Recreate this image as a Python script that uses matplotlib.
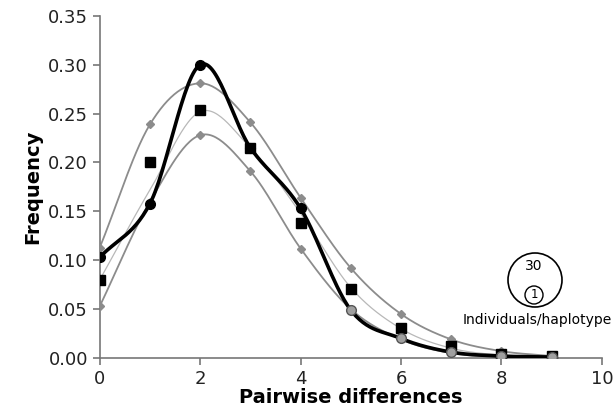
import numpy as np
import matplotlib
matplotlib.use("Agg")
import matplotlib.pyplot as plt
from matplotlib.patches import Circle

x = [0, 1, 2, 3, 4, 5, 6, 7, 8, 9]
observed = [0.103, 0.158, 0.300, 0.215, 0.153, 0.049, 0.020, 0.006, 0.002, 0.001]
squares = [0.080, 0.200, 0.254, 0.215, 0.138, 0.071, 0.031, 0.012, 0.004, 0.002]
expected_mid = [0.080, 0.172, 0.252, 0.215, 0.148, 0.072, 0.030, 0.010, 0.003, 0.001]
expected_hi = [0.113, 0.239, 0.281, 0.241, 0.164, 0.092, 0.045, 0.019, 0.007, 0.002]
expected_lo = [0.053, 0.160, 0.228, 0.191, 0.112, 0.050, 0.019, 0.005, 0.001, 0.000]


def smooth(xs, ys, n=30):
    # catmull-rom style curve, like spreadsheet "smoothed line"
    xs = np.asarray(xs, float)
    ys = np.asarray(ys, float)
    px = np.concatenate([[2 * xs[0] - xs[1]], xs, [2 * xs[-1] - xs[-2]]])
    py = np.concatenate([[2 * ys[0] - ys[1]], ys, [2 * ys[-1] - ys[-2]]])
    outx, outy = [], []
    t = np.linspace(0, 1, n)
    for i in range(1, len(px) - 2):
        for p, out in ((px, outx), (py, outy)):
            p0, p1, p2, p3 = p[i - 1], p[i], p[i + 1], p[i + 2]
            out.extend(0.5 * (2 * p1 + (-p0 + p2) * t
                              + (2 * p0 - 5 * p1 + 4 * p2 - p3) * t ** 2
                              + (-p0 + 3 * p1 - 3 * p2 + p3) * t ** 3))
    return np.array(outx), np.array(outy)


fig = plt.figure(figsize=(6.16, 4.17), dpi=100)
ax = fig.add_axes([0.162, 0.1415, 0.815, 0.8205])

grey = "#8c8c8c"
light = "#b8b8b8"

sx, sy = smooth(x, expected_hi)
ax.plot(sx, sy, color=grey, lw=1.3, zorder=2)
ax.plot(x, expected_hi, "D", color=grey, ms=4, zorder=3)

sx, sy = smooth(x, expected_lo)
ax.plot(sx, sy, color=grey, lw=1.3, zorder=2)
ax.plot(x, expected_lo, "D", color=grey, ms=4, zorder=3)

sx, sy = smooth(x, expected_mid)
ax.plot(sx, sy, color=light, lw=0.9, zorder=2)

ax.plot(x, squares, "s", color="black", ms=6.5, zorder=4)

sx, sy = smooth(x, observed)
ax.plot(sx, sy, color="black", lw=2.6, zorder=5)
ax.plot(x[:5], observed[:5], "o", color="black", ms=7, zorder=6)
ax.plot(x[5:], observed[5:], "o", mfc="#a0a0a0", mec="#555555", ms=7, zorder=6)

ax.set_xlim(0, 10)
ax.set_ylim(0, 0.35)
ax.set_xticks(range(0, 11, 2))
ax.set_yticks(np.arange(0, 0.351, 0.05))
ax.set_yticklabels([f"{v:.2f}" for v in np.arange(0, 0.351, 0.05)])
for s in ("top", "right"):
    ax.spines[s].set_visible(False)
for s in ("left", "bottom"):
    ax.spines[s].set_color("#777777")
    ax.spines[s].set_linewidth(1.2)
ax.tick_params(direction="out", length=5, width=1.2, color="#777777",
               labelsize=13, labelcolor="#222222")
ax.set_xlabel("Pairwise differences", fontsize=14, fontweight="bold", labelpad=0)
ax.set_ylabel("Frequency", fontsize=14, fontweight="bold", labelpad=4)

# haplotype size key
ax.add_patch(Circle((535, 137), 27, transform=None, fill=False, lw=1.2,
                    ec="black", clip_on=False))
ax.add_patch(Circle((534, 122), 9, transform=None, fill=False, lw=1.0,
                    ec="black", clip_on=False))
fig.text(534 / 616, 1 - 266 / 417, "30", ha="center", va="center", fontsize=10)
fig.text(534 / 616, 1 - 295 / 417, "1", ha="center", va="center", fontsize=8.5)
fig.text(537 / 616, 1 - 320 / 417, "Individuals/haplotype", ha="center",
         va="center", fontsize=10)

fig.savefig("out.png", dpi=100)
